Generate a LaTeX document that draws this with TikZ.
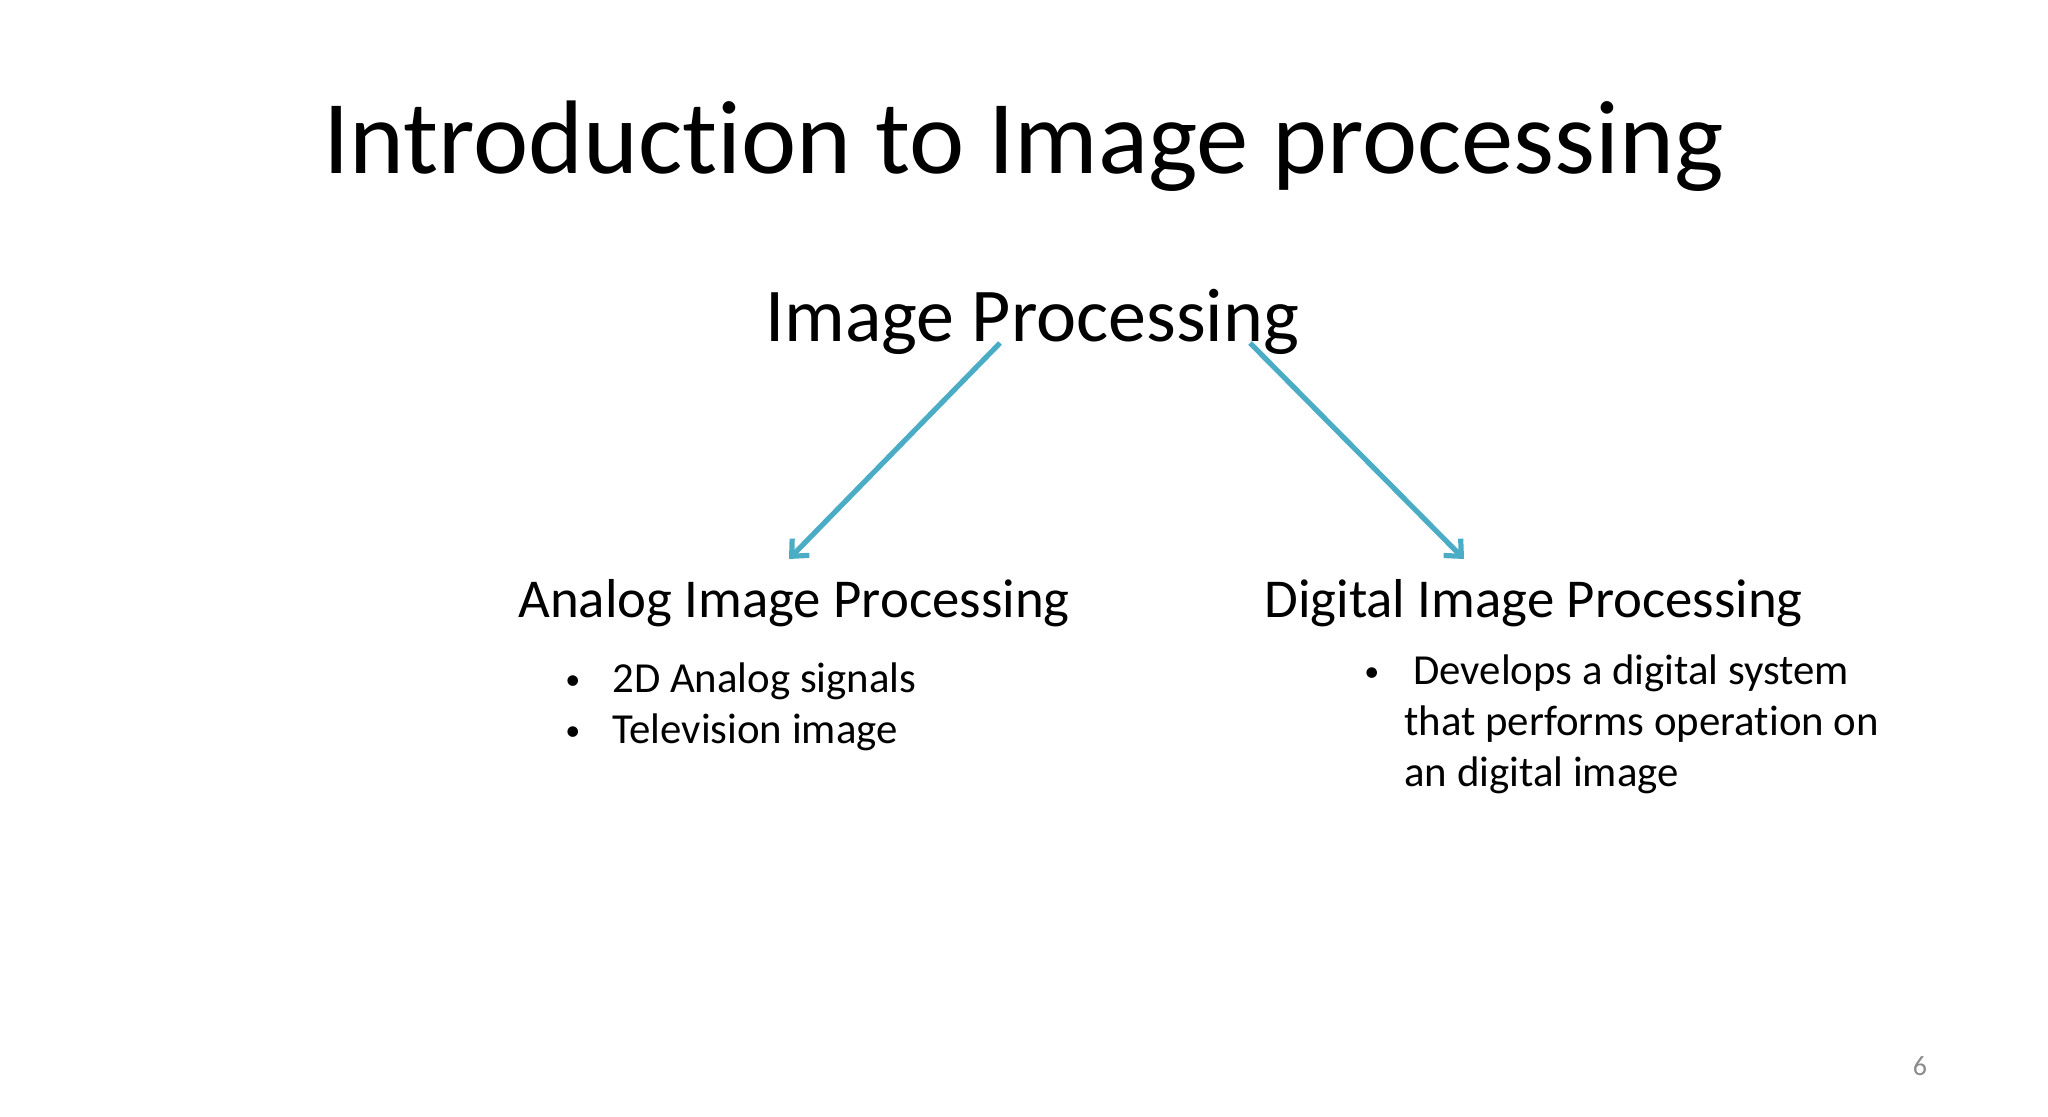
\documentclass[tikz,border=0pt]{standalone}
\usepackage{fontspec}
\setmainfont[Ligatures=NoCommon]{Carlito}
\usetikzlibrary{arrows.meta}
\definecolor{arrowblue}{HTML}{4BACC6}
\definecolor{pagegray}{HTML}{8C8C8C}

\begin{document}
\begin{tikzpicture}[x=0.5pt,y=-0.5pt,
  txt/.style={inner sep=0pt,anchor=base west},
  bigtitle/.style={txt,font=\fontsize{52.3}{58}\selectfont},
  subtitle/.style={txt,font=\fontsize{38}{44}\selectfont},
  branch/.style={txt,font=\fontsize{27.4}{32}\selectfont},
  item/.style={txt,font=\fontsize{21.4}{25}\selectfont},
  dot/.style={txt,font=\fontsize{15}{18}\selectfont},
  link/.style={line width=2.6pt,arrowblue,-{Straight Barb[length=6.5pt,width=12pt,line width=2.6pt]}}]
  \useasboundingbox (0,0) rectangle (2048,1117);
  % headings
  \node[bigtitle] (title) at (323,174) {Introduction to Image processing};
  \node[subtitle] (ip) at (765,342) {Image Processing};
  \node[branch] (analog) at (518,617) {Analog Image Processing};
  \node[branch] (digital) at (1264,617) {Digital Image Processing};
  % arrow ends
  \coordinate (ipl) at (1000,343);
  \coordinate (ipr) at (1250,343);
  \coordinate (al) at (789,559);
  \coordinate (dl) at (1464,559);
  \draw[link] (ipl) -- (al);
  \draw[link] (ipr) -- (dl);
  % analog bullets
  \node[dot] (ab1) at (565,689) {•};
  \node[item] (a1) at (612,692) {2D Analog signals};
  \node[dot] (ab2) at (565,740) {•};
  \node[item] (a2) at (612,743) {Television image};
  % digital bullets
  \node[dot] (db1) at (1364,681) {•};
  \node[item] (d1) at (1413,684) {Develops a digital system};
  \node[item] (d2) at (1404,735) {that performs operation on};
  \node[item] (d3) at (1404,786) {an digital image};
  % page number
  \node[txt,anchor=base,font=\fontsize{14}{16}\selectfont,pagegray] (page) at (1920,1075) {6};
\end{tikzpicture}
\end{document}
